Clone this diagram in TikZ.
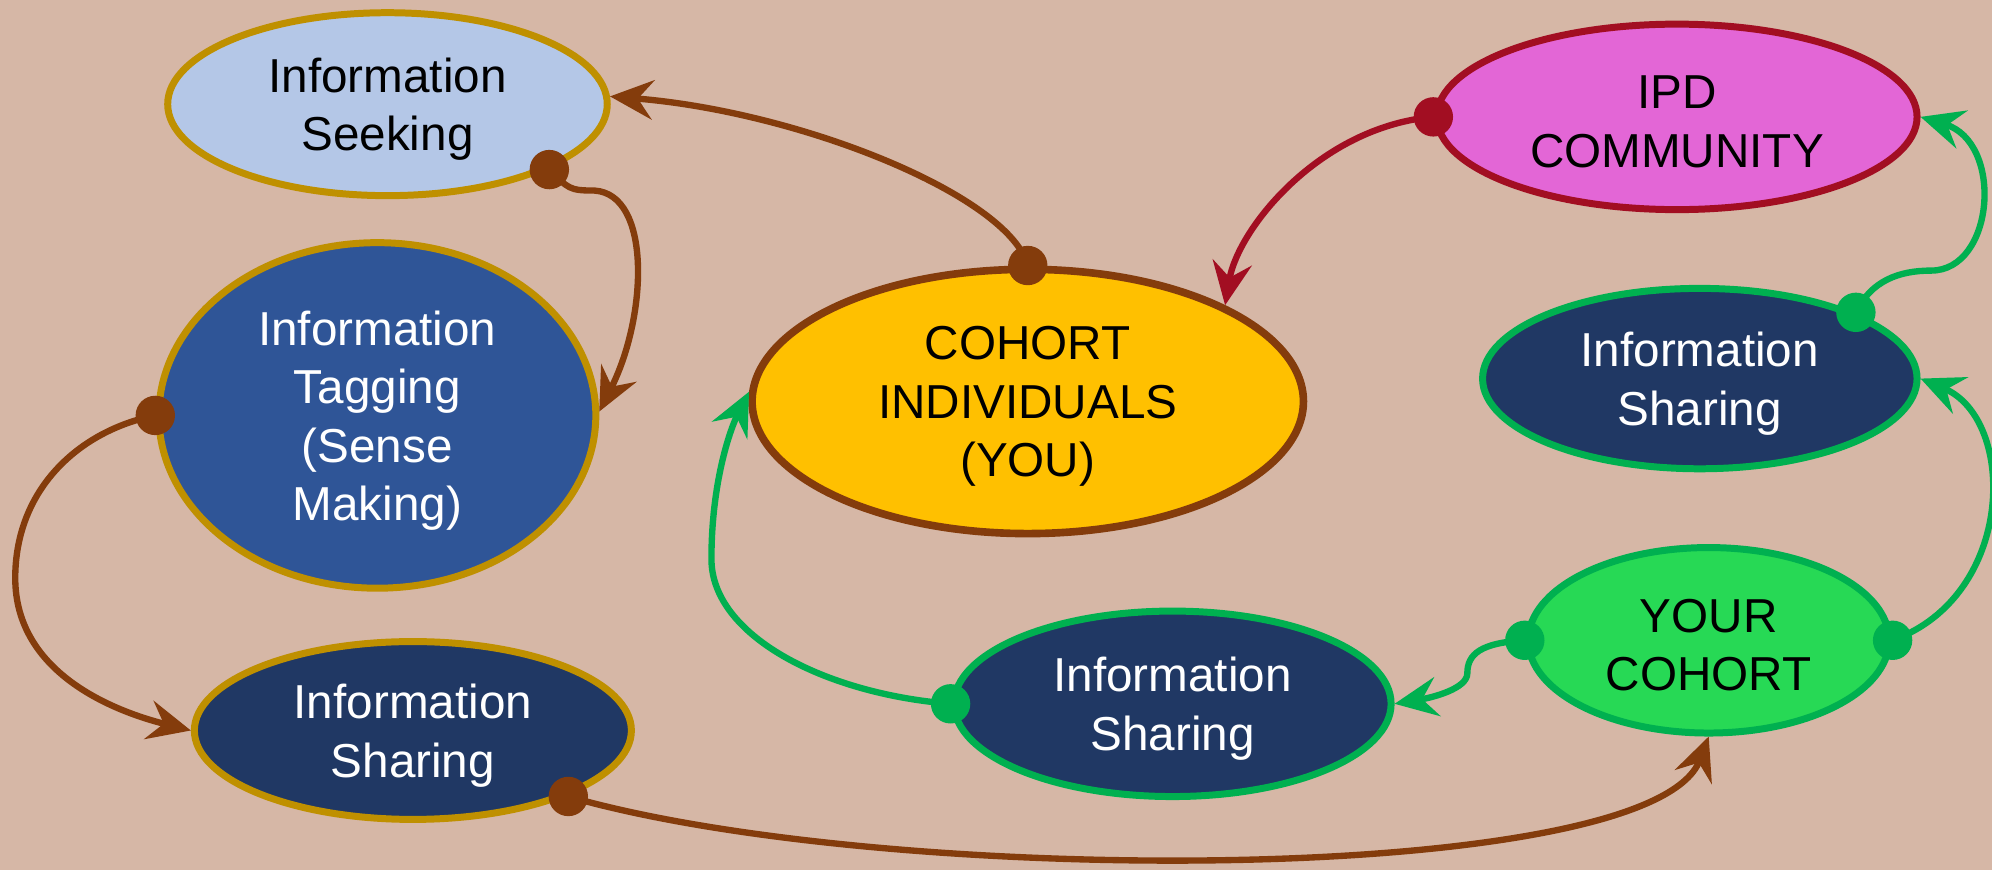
\documentclass[tikz,border=0pt]{standalone}
\usepackage{fontspec}
\setmainfont{Liberation Sans}
\usetikzlibrary{shapes.geometric,arrows.meta}
\definecolor{bgc}{HTML}{D6B7A6}
\definecolor{brn}{HTML}{843C0C}
\definecolor{gold}{HTML}{BF9000}
\definecolor{lblue}{HTML}{B4C7E7}
\definecolor{tblue}{HTML}{2F5597}
\definecolor{navy}{HTML}{203864}
\definecolor{orng}{HTML}{FFC000}
\definecolor{pinkc}{HTML}{E366D6}
\definecolor{crim}{HTML}{A20E22}
\definecolor{grn}{HTML}{00B050}
\definecolor{lgrn}{HTML}{27D955}
\begin{document}
\begin{tikzpicture}[x=1pt,y=-1pt,
  ell/.style={ellipse, inner sep=0pt, line width=5.5pt},
  lbl/.style={align=center, inner sep=0pt, yshift=-4pt,
    font=\fontsize{37.5}{46}\selectfont},
  conn/.style={line width=5pt, -{Stealth[length=34pt,width=31pt,inset=12pt]}},
  dotr/.style={radius=15.5pt}]
\fill[bgc] (0,0) rectangle (1568,685);
\useasboundingbox (0,0) rectangle (1568,685);

\node[ell, fill=lblue, draw=gold, minimum width=346pt, minimum height=144pt,
  label={[lbl]center:Information\\Seeking}] (seek) at (305,82) {};
\node[ell, fill=tblue, draw=gold, minimum width=344pt, minimum height=272pt,
  label={[lbl, text=white]center:Information\\Tagging\\(Sense\\Making)}] (tag) at (297,327) {};
\node[ell, fill=navy, draw=gold, minimum width=344pt, minimum height=140pt,
  label={[lbl, text=white]center:Information\\Sharing}] (lsh) at (325,575) {};
\node[ell, fill=orng, draw=brn, line width=6pt, minimum width=434pt, minimum height=208pt,
  label={[lbl]center:COHORT\\INDIVIDUALS\\(YOU)}] (coh) at (809,316) {};
\node[ell, fill=pinkc, draw=crim, minimum width=378pt, minimum height=146pt,
  label={[lbl]center:IPD\\COMMUNITY}] (ipd) at (1320,92) {};
\node[ell, fill=navy, draw=grn, minimum width=342pt, minimum height=142pt,
  label={[lbl, text=white]center:Information\\Sharing}] (rsh) at (1338,298) {};
\node[ell, fill=lgrn, draw=grn, minimum width=284pt, minimum height=146pt,
  label={[lbl]center:YOUR\\COHORT}] (yc) at (1345,504) {};
\node[ell, fill=navy, draw=grn, minimum width=344pt, minimum height=146pt,
  label={[lbl, text=white]center:Information\\Sharing}] (msh) at (923,554) {};

\coordinate (b1) at (468,150);
\coordinate (c1) at (12,455);
\coordinate (g1) at (1520,213);
\coordinate (h1) at (1155,530);
\coordinate (i1) at (560,440);

\draw[conn, brn] (coh.90) .. controls +(-15,-55) and +(150,12) .. (seek.2);
\draw[conn, brn] (seek.-22) .. controls +(15,15) and +(-20,0) .. (b1) .. controls +(45,3) and +(38,-75) .. (tag.1);
\draw[conn, brn] (tag.west) .. controls +(-60,12) and +(0,-70) .. (c1) .. controls +(0,75) and +(-60,-15) .. (lsh.west);
\draw[conn, brn] (lsh.-23) .. controls +(250,72) and +(-45,118) .. (yc.south);
\draw[conn, crim] (ipd.west) .. controls +(-90,8) and +(10,-60) .. (coh.26);
\draw[conn, grn] (yc.east) .. controls +(97,-35) and +(76,32) .. (rsh.east);
\draw[conn, grn] (rsh.23) .. controls +(12,-25) and +(-25,0) .. (g1) .. controls +(50,0) and +(66,20) .. (ipd.east);
\draw[conn, grn] (yc.west) .. controls +(-35,2) and +(0,-15) .. (h1) .. controls +(0,12) and +(30,-5) .. (msh.east);
\draw[conn, grn] (msh.west) .. controls +(-100,-8) and +(0,60) .. (i1) .. controls +(0,-60) and +(-15,30) .. (coh.178);

\fill[brn] (coh.90) circle[dotr];
\fill[brn] (seek.-22) circle[dotr];
\fill[brn] (tag.west) circle[dotr];
\fill[brn] (lsh.-23) circle[dotr];
\fill[crim] (ipd.west) circle[dotr];
\fill[grn] (yc.east) circle[dotr];
\fill[grn] (rsh.23) circle[dotr];
\fill[grn] (yc.west) circle[dotr];
\fill[grn] (msh.west) circle[dotr];
\end{tikzpicture}
\end{document}
